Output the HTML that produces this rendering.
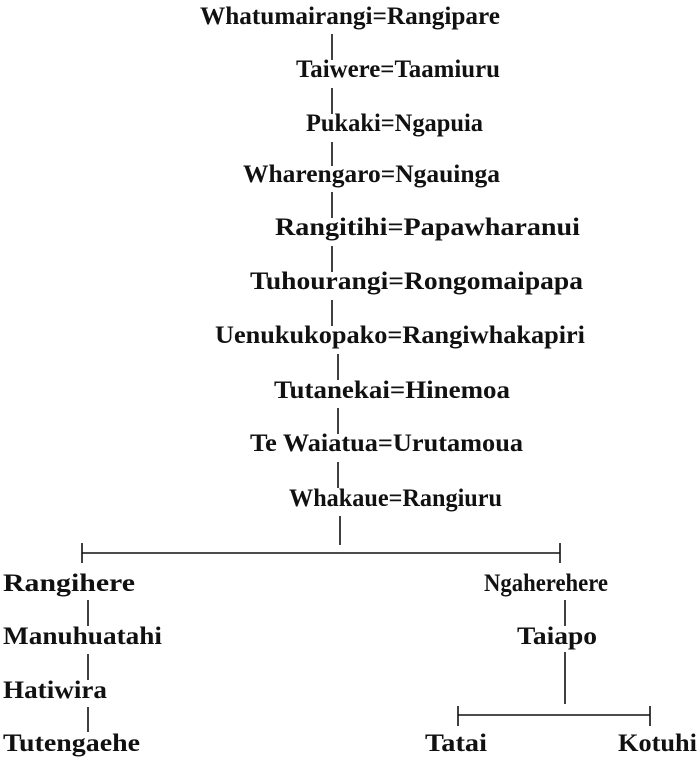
<!DOCTYPE html>
<html><head><style>
html,body{margin:0;padding:0;background:#fff;}
svg{display:block;}
text{font-family:"Liberation Serif",serif;font-size:25px;font-weight:bold;fill:#111;}
line{stroke:#111;stroke-width:1.6;}
</style></head><body>
<svg width="700" height="760" xmlns="http://www.w3.org/2000/svg">
<text x="200" y="24" textLength="300" lengthAdjust="spacingAndGlyphs">Whatumairangi=Rangipare</text>
<line x1="332" y1="34" x2="332" y2="60"/>
<text x="296" y="77" textLength="204" lengthAdjust="spacingAndGlyphs">Taiwere=Taamiuru</text>
<line x1="332" y1="88" x2="332" y2="114"/>
<text x="306" y="131" textLength="177" lengthAdjust="spacingAndGlyphs">Pukaki=Ngapuia</text>
<line x1="332" y1="142" x2="332" y2="166"/>
<text x="243" y="182" textLength="257" lengthAdjust="spacingAndGlyphs">Wharengaro=Ngauinga</text>
<line x1="332" y1="192" x2="332" y2="218"/>
<text x="275" y="235" textLength="305" lengthAdjust="spacingAndGlyphs">Rangitihi=Papawharanui</text>
<line x1="332" y1="246" x2="332" y2="272"/>
<text x="250" y="289" textLength="333" lengthAdjust="spacingAndGlyphs">Tuhourangi=Rongomaipapa</text>
<line x1="332" y1="300" x2="332" y2="326"/>
<text x="215" y="343" textLength="370" lengthAdjust="spacingAndGlyphs">Uenukukopako=Rangiwhakapiri</text>
<line x1="338" y1="354" x2="338" y2="380"/>
<text x="274" y="398" textLength="236" lengthAdjust="spacingAndGlyphs">Tutanekai=Hinemoa</text>
<line x1="338" y1="408" x2="338" y2="434"/>
<text x="250" y="451" textLength="273" lengthAdjust="spacingAndGlyphs">Te  Waiatua=Urutamoua</text>
<line x1="338" y1="462" x2="338" y2="488"/>
<text x="289" y="506" textLength="213" lengthAdjust="spacingAndGlyphs">Whakaue=Rangiuru</text>
<line x1="340" y1="516" x2="340" y2="545"/>
<line x1="82" y1="553" x2="560" y2="553"/>
<line x1="82" y1="543" x2="82" y2="563"/>
<line x1="560" y1="543" x2="560" y2="563"/>
<text x="3" y="591" textLength="132" lengthAdjust="spacingAndGlyphs">Rangihere</text>
<text x="484" y="591" textLength="124" lengthAdjust="spacingAndGlyphs">Ngaherehere</text>
<line x1="88" y1="600" x2="88" y2="626"/>
<line x1="565" y1="600" x2="565" y2="626"/>
<text x="3" y="644" textLength="159" lengthAdjust="spacingAndGlyphs">Manuhuatahi</text>
<text x="517" y="644" textLength="80" lengthAdjust="spacingAndGlyphs">Taiapo</text>
<line x1="88" y1="654" x2="88" y2="680"/>
<line x1="565" y1="652" x2="565" y2="704"/>
<text x="3" y="698" textLength="104" lengthAdjust="spacingAndGlyphs">Hatiwira</text>
<line x1="88" y1="707" x2="88" y2="732"/>
<line x1="458" y1="715" x2="650" y2="715"/>
<line x1="458" y1="706" x2="458" y2="726"/>
<line x1="650" y1="706" x2="650" y2="726"/>
<text x="3" y="751" textLength="137" lengthAdjust="spacingAndGlyphs">Tutengaehe</text>
<text x="425" y="751" textLength="62" lengthAdjust="spacingAndGlyphs">Tatai</text>
<text x="618" y="751" textLength="79" lengthAdjust="spacingAndGlyphs">Kotuhi</text>
</svg>
</body></html>
